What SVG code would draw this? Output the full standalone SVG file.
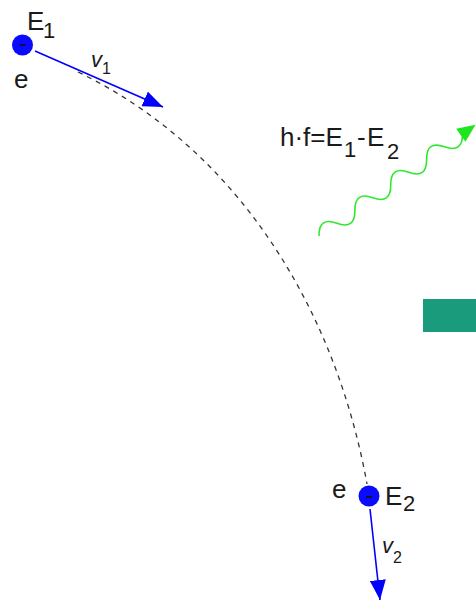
<svg xmlns="http://www.w3.org/2000/svg" width="476" height="601" viewBox="0 0 476 601">
<style>
text{font-family:"Liberation Sans",Arial,sans-serif;fill:#1a1a1a}
.lbl{font-size:26px}
.sub{font-size:22px}
.v{font-size:22px;font-style:italic}
.vs{font-size:16px}
.blue{stroke:#0000ff;stroke-width:1.6;fill:none}
.minus{stroke:#111;stroke-width:1.6}
</style>
<defs>
<marker id="ab" viewBox="0 0 20 16" refX="20" refY="8" markerWidth="20" markerHeight="16" markerUnits="userSpaceOnUse" orient="auto">
<path d="M0,0 L20,8 L0,16 Z" fill="#0000ff"/>
</marker>
</defs>
<rect x="0" y="0" width="476" height="601" fill="#fff"/>
<g id="connectors">
<path id="path" d="M78,72 C240,150 336,312 367,484" fill="none" stroke="#333" stroke-width="1.3" stroke-dasharray="5,5"/>
<line id="v1arrow" class="blue" x1="35" y1="51" x2="163" y2="107" marker-end="url(#ab)"/>
<line id="v2arrow" class="blue" x1="370" y1="509" x2="380" y2="600" marker-end="url(#ab)"/>
<g id="photon" transform="translate(319,236) rotate(-35.4)">
<path d="M0,0 q11,-16 22,0 t22,0 t22,0 t22,0 t22,0 t22,0 t22,0 t22,0" fill="none" stroke="#2ee82e" stroke-width="1.6"/>
<polygon points="174,-8 192,0 174,8" fill="#1ee61e"/>
</g>
</g>
<g id="electron1">
<circle cx="22.5" cy="45" r="10.5" fill="#0a0aff"/>
<line class="minus" x1="19.5" y1="45" x2="25.5" y2="45"/>
<text class="lbl" x="27" y="30">E</text><text class="sub" x="43" y="38">1</text>
<text class="lbl" x="14" y="88">e</text>
<text class="v" x="91" y="67">v</text><text class="vs" x="102" y="74">1</text>
</g>
<g id="electron2">
<circle cx="369" cy="496" r="10.5" fill="#0a0aff"/>
<line class="minus" x1="366" y1="497" x2="372" y2="497"/>
<text class="lbl" x="332" y="498">e</text>
<text class="lbl" x="385" y="505">E</text><text class="sub" x="403" y="511">2</text>
<text class="v" x="382" y="553">v</text><text class="vs" x="393" y="563">2</text>
</g>
<g id="formula">
<text class="lbl" x="280" y="146">h·f=E</text>
<text class="sub" x="344" y="157">1</text>
<text class="lbl" x="357" y="146">-</text>
<text class="lbl" x="367" y="146">E</text>
<text class="sub" x="387" y="159">2</text>
</g>
<rect id="teal" x="423" y="299" width="53" height="33" fill="#1a9c7c"/>
</svg>
